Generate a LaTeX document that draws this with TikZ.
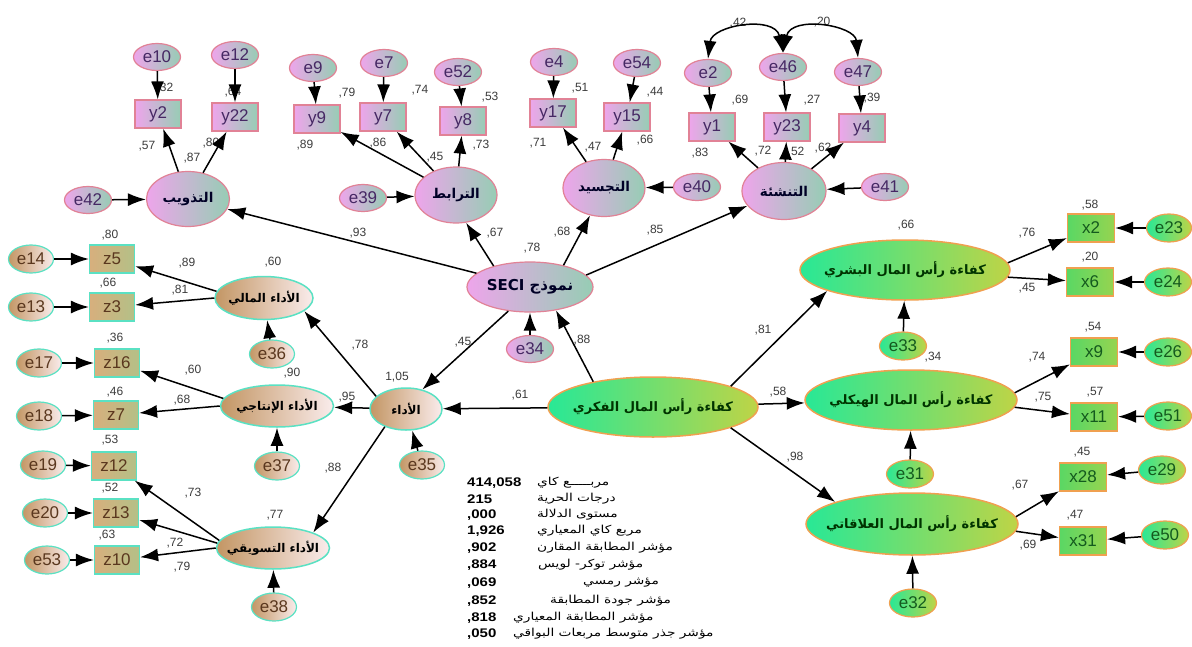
\documentclass[tikz,border=0pt]{standalone}
\usepackage{fontspec}
\setmainfont{Liberation Sans}
\newfontfamily\arf[Script=Arabic]{DejaVu Sans}
\newfontfamily\arft[Script=Arabic,FakeStretch=1.25]{DejaVu Sans}
\newfontfamily\numf[FakeStretch=1.2]{Liberation Sans}
\TeXXeTstate=1
\usetikzlibrary{shapes.geometric,arrows.meta}
\newcommand\AR[1]{\beginR #1\endR}
\newcommand\lb[3]{\node[lbl] (#1) at (#2) {#3};}
\definecolor{pkL}{RGB}{238,165,235}
\definecolor{tlR}{RGB}{150,205,180}
\definecolor{pkB}{RGB}{225,130,150}
\definecolor{txP}{RGB}{70,40,100}
\definecolor{brL}{RGB}{195,150,100}
\definecolor{crR}{RGB}{250,236,236}
\definecolor{cyB}{RGB}{90,225,195}
\definecolor{bxL}{RGB}{215,175,125}
\definecolor{bxR}{RGB}{180,192,135}
\definecolor{txB}{RGB}{90,55,30}
\definecolor{gnL}{RGB}{40,232,150}
\definecolor{ylR}{RGB}{190,212,70}
\definecolor{orB}{RGB}{240,160,80}
\definecolor{gbL}{RGB}{90,215,100}
\definecolor{gbR}{RGB}{150,212,80}
\definecolor{txG}{RGB}{20,90,30}
\definecolor{lblc}{RGB}{60,60,60}
\tikzset{
  arr/.style={line width=1.5pt,-{Latex[length=18pt,width=13pt]}},
  cov/.style={line width=1.5pt,{Latex[length=18pt,width=13pt]}-{Latex[length=18pt,width=13pt]}},
  lbl/.style={font=\fontsize{12}{12}\selectfont,text=lblc,inner sep=0pt},
  ebase/.style={ellipse,line width=1.2pt,minimum width=47pt,minimum height=27pt,inner sep=0pt,font=\fontsize{17}{17}\selectfont},
  bbase/.style={rectangle,line width=1.2pt,minimum width=46pt,minimum height=28pt,inner sep=0pt,font=\fontsize{17}{17}\selectfont},
  errP/.style={ebase,draw=pkB,left color=pkL,right color=tlR,text=txP},
  boxP/.style={bbase,draw=pkB,left color=pkL,right color=tlR,text=txP},
  latP/.style={ellipse,line width=1.2pt,draw=pkB,left color=pkL,right color=tlR,inner sep=0pt,font=\arf\bfseries\fontsize{13.5}{13.5}\selectfont,text=black!85!blue},
  errB/.style={ebase,minimum width=45pt,minimum height=28pt,draw=cyB,left color=brL,right color=crR,text=txB},
  boxB/.style={bbase,minimum width=45pt,draw=cyB,left color=bxL,right color=bxR,text=txB},
  latB/.style={ellipse,line width=1.5pt,draw=cyB,left color=brL,right color=crR,inner sep=0pt,inner xsep=-9pt,font=\arf\bfseries\fontsize{12}{12}\selectfont,text=black},
  errG/.style={ebase,minimum height=28pt,draw=orB,left color=gnL,right color=ylR,text=txG},
  boxG/.style={bbase,minimum width=47pt,draw=orB,left color=gbL,right color=gbR,text=txG},
  latG/.style={ellipse,line width=1.5pt,draw=orB,left color=gnL,right color=ylR,inner sep=0pt,inner xsep=-14pt,minimum width=210pt,minimum height=60pt,font=\arf\bfseries\fontsize{13}{13}\selectfont,text=black!80!green},
  num/.style={font=\numf\bfseries\fontsize{12.5}{12.5}\selectfont,inner sep=0pt,anchor=west},
  tar/.style={font=\arft\fontsize{11}{11}\selectfont,inner sep=0pt,anchor=west}
}
\begin{document}
\begin{tikzpicture}[x=1pt,y=-1pt]
\useasboundingbox[fill=white] (0,0) rectangle (1192,646);
% ---------- SECI first-order latents
\node[latP,minimum width=83pt,minimum height=55pt] (T1) at (188,199) {\AR{التذويب}};
\node[latP,minimum width=82pt,minimum height=56pt] (T2) at (456,195) {\AR{الترابط}};
\node[latP,minimum width=82pt,minimum height=57pt] (T3) at (604,188) {\AR{التجسيد}};
\node[latP,minimum width=84pt,minimum height=57pt] (T4) at (784,191) {\AR{التنشئة}};
\node[latP,minimum width=126pt,minimum height=50pt,font=\arf\bfseries\fontsize{15}{15}\selectfont] (SECI) at (530,287) {\AR{نموذج \beginL SECI\endL}};
% indicators
\node[boxP] (y2) at (158,114) {y2};
\node[boxP] (y22) at (235,117) {y22};
\node[boxP] (y9) at (317,119) {y9};
\node[boxP] (y7) at (383,117) {y7};
\node[boxP] (y8) at (463,121) {y8};
\node[boxP] (y17) at (553,113) {y17};
\node[boxP] (y15) at (627,117) {y15};
\node[boxP] (y1) at (712,127) {y1};
\node[boxP] (y23) at (787,127) {y23};
\node[boxP] (y4) at (862,128) {y4};
\node[errP] (e10) at (157,57) {e10};
\node[errP] (e12) at (235,55) {e12};
\node[errP] (e9) at (313,68) {e9};
\node[errP] (e7) at (384,63) {e7};
\node[errP] (e52) at (458,72) {e52};
\node[errP] (e4) at (554,62) {e4};
\node[errP] (e54) at (637,63) {e54};
\node[errP] (e2) at (708,73) {e2};
\node[errP] (e46) at (783,67) {e46};
\node[errP] (e47) at (858,72) {e47};
\node[errP] (e42) at (88,200) {e42};
\node[errP] (e39) at (363,198) {e39};
\node[errP] (e40) at (697,187) {e40};
\node[errP] (e41) at (885,187) {e41};
\node[errP] (e34) at (530,349) {e34};
% ---------- performance
\node[latB,minimum width=72pt,minimum height=42pt] (L0) at (406,409) {\AR{الأداء}};
\node[latB,minimum width=98pt,minimum height=43pt] (L1) at (264,298) {\AR{الأداء المالي}};
\node[latB,minimum width=113pt,minimum height=42pt] (L2) at (277,406) {\AR{الأداء الإنتاجي}};
\node[latB,minimum width=113pt,minimum height=42pt] (L3) at (273,548) {\AR{الأداء التسويقي}};
\node[boxB] (z5) at (112,259) {z5};
\node[boxB] (z3) at (112,307) {z3};
\node[boxB] (z16) at (117,363) {z16};
\node[boxB] (z7) at (116,415) {z7};
\node[boxB] (z12) at (114,466) {z12};
\node[boxB] (z13) at (116,513) {z13};
\node[boxB] (z10) at (117,560) {z10};
\node[errB] (e14) at (31,259) {e14};
\node[errB] (e13) at (31,307) {e13};
\node[errB] (e17) at (39,363) {e17};
\node[errB] (e18) at (39,416) {e18};
\node[errB] (e19) at (43,465) {e19};
\node[errB] (e20) at (45,513) {e20};
\node[errB] (e53) at (47,560) {e53};
\node[errB] (e36) at (272,354) {e36};
\node[errB] (e37) at (277,466) {e37};
\node[errB] (e38) at (274,607) {e38};
\node[errB] (e35) at (422,465) {e35};
% ---------- intellectual capital
\node[latG] (F) at (653,407) {\AR{كفاءة رأس المال الفكري}};
\node[latG] (R1) at (905,270) {\AR{كفاءة رأس المال البشري}};
\node[latG,minimum width=212pt] (R2) at (911,400) {\AR{كفاءة رأس المال الهيكلي}};
\node[latG,minimum width=212pt,minimum height=62pt] (R3) at (912,524) {\AR{كفاءة رأس المال العلاقاتي}};
\node[boxG] (x2) at (1091,228) {x2};
\node[boxG] (x6) at (1090,282) {x6};
\node[boxG] (x9) at (1094,352) {x9};
\node[boxG] (x11) at (1094,417) {x11};
\node[boxG] (x28) at (1083,477) {x28};
\node[boxG] (x31) at (1083,541) {x31};
\node[errG,minimum width=45pt] (e23) at (1169,228) {e23};
\node[errG] (e24) at (1168,282) {e24};
\node[errG] (e26) at (1168,352) {e26};
\node[errG] (e51) at (1168,416) {e51};
\node[errG] (e29) at (1162,470) {e29};
\node[errG] (e50) at (1165,535) {e50};
\node[errG] (e33) at (903,346) {e33};
\node[errG] (e31) at (910,474) {e31};
\node[errG] (e32) at (913,603) {e32};
% ---------- labels
\lb{a1}{165,88}{,32}
\lb{a2}{233,92}{,64}
\lb{a3}{147,146}{,57}
\lb{a4}{192,158}{,87}
\lb{a5}{211,143}{,80}
\lb{a6}{347,93}{,79}
\lb{a7}{305,145}{,89}
\lb{a8}{420,90}{,74}
\lb{a9}{378,143}{,86}
\lb{a10}{435,157}{,45}
\lb{a11}{490,97}{,53}
\lb{a12}{481,145}{,73}
\lb{a13}{580,88}{,51}
\lb{a14}{538,143}{,71}
\lb{a15}{593,147}{,47}
\lb{a16}{655,92}{,44}
\lb{a17}{645,140}{,66}
\lb{a18}{740,100}{,69}
\lb{a19}{700,153}{,83}
\lb{a20}{812,100}{,27}
\lb{a21}{763,151}{,72}
\lb{a22}{796,152}{,52}
\lb{a23}{872,98}{,39}
\lb{a24}{823,148}{,62}
\lb{a25}{738,23}{,42}
\lb{a26}{822,22}{,20}
\lb{b1}{358,233}{,93}
\lb{b2}{495,233}{,67}
\lb{b3}{532,248}{,78}
\lb{b4}{562,232}{,68}
\lb{b5}{655,230}{,85}
\lb{b6}{906,225}{,66}
\lb{b7}{463,342}{,45}
\lb{b8}{582,340}{,88}
\lb{b9}{763,330}{,81}
\lb{b10}{520,395}{,61}
\lb{b11}{778,392}{,58}
\lb{b12}{795,457}{,98}
\lb{c1}{110,235}{,80}
\lb{c2}{187,263}{,89}
\lb{c3}{108,283}{,66}
\lb{c4}{180,290}{,81}
\lb{c5}{273,262}{,60}
\lb{c6}{360,345}{,78}
\lb{c7}{115,338}{,36}
\lb{c8}{193,370}{,60}
\lb{c9}{292,373}{,90}
\lb{c10}{347,397}{,95}
\lb{c11}{397,377}{1,05}
\lb{c12}{115,392}{,46}
\lb{c13}{182,400}{,68}
\lb{c14}{110,440}{,53}
\lb{c15}{110,488}{,52}
\lb{c16}{107,535}{,63}
\lb{c17}{193,493}{,73}
\lb{c18}{175,543}{,72}
\lb{c19}{182,567}{,79}
\lb{c20}{275,515}{,77}
\lb{c21}{333,468}{,88}
\lb{d1}{1027,233}{,76}
\lb{d2}{1090,205}{,58}
\lb{d3}{1090,257}{,20}
\lb{d4}{1027,288}{,45}
\lb{d5}{1093,327}{,54}
\lb{d6}{933,357}{,34}
\lb{d7}{1037,357}{,74}
\lb{d8}{1043,397}{,75}
\lb{d9}{1095,392}{,57}
\lb{d10}{1082,452}{,45}
\lb{d11}{1020,485}{,67}
\lb{d12}{1075,515}{,47}
\lb{d13}{1028,545}{,69}
% ---------- arrows: errors to indicators
\foreach \e/\y in {e10/y2,e12/y22,e9/y9,e7/y7,e52/y8,e4/y17,e54/y15,e2/y1,e46/y23,e47/y4,
  e42/T1,e39/T2,e40/T3,e41/T4,e34/SECI,
  e14/z5,e13/z3,e17/z16,e18/z7,e19/z12,e20/z13,e53/z10,e36/L1,e37/L2,e38/L3,e35/L0,
  e23/x2,e24/x6,e26/x9,e51/x11,e29/x28,e50/x31,e33/R1,e31/R2,e32/R3}
  \draw[arr] (\e) -- (\y);
% loadings
\foreach \l/\y in {T1/y2,T1/y22,T2/y9,T2/y7,T2/y8,T3/y17,T3/y15,T4/y1,T4/y23,T4/y4}
  \draw[arr] (\l) -- (\y);
\draw[arr] (L1.172) -- (z5);
\draw[arr] (L1.west) -- (z3);
\draw[arr] (L2.172) -- (z16);
\draw[arr] (L2.west) -- (z7);
\draw[arr] (L3.172) -- (z12);
\draw[arr] (L3.175) -- (z13);
\draw[arr] (L3.180) -- (z10);
\draw[arr] (R1.4) -- (x2);
\draw[arr] (R1.-4) -- (x6);
\draw[arr] (R2.4) -- (x9);
\draw[arr] (R2.-4) -- (x11);
\draw[arr] (R3.4) -- (x28);
\draw[arr] (R3.-4) -- (x31);
% structural
\draw[arr] (SECI) -- (T1);
\draw[arr] (SECI.150) -- (T2.290);
\draw[arr] (SECI.33) -- (T3.243);
\draw[arr] (SECI.12) -- (T4.202);
\draw[arr] (SECI.228) -- (L0.50);
\draw[arr] (F.157) -- (SECI.-42);
\draw[arr] (F) -- (L0);
\draw[arr] (F.15) -- (R1.195);
\draw[arr] (F) -- (R2);
\draw[arr] (F.-15) -- (R3.164);
\draw[arr] (L0.157) -- (L1.-18);
\draw[arr] (L0) -- (L2);
\draw[arr] (L0.220) -- (L3.21);
% covariances
\draw[cov] (e2.north) .. controls (712,25) and (775,15) .. (e46.north);
\draw[cov] (e46.north) .. controls (791,15) and (855,25) .. (e47.north);
% ---------- fit table
\node[num] (n1) at (467,483) {414,058};
\node[num] (n2) at (467,499) {215};
\node[num] (n3) at (467,515) {,000};
\node[num] (n4) at (467,531) {1,926};
\node[num] (n5) at (467,548) {,902};
\node[num] (n6) at (467,565) {,884};
\node[num] (n7) at (467,583) {,069};
\node[num] (n8) at (467,601) {,852};
\node[num] (n9) at (467,618) {,818};
\node[num] (n10) at (467,634) {,050};
\node[tar] (t1) at (537,483) {\AR{مربـــــع كاي}};
\node[tar] (t2) at (537,499) {\AR{درجات الحرية}};
\node[tar] (t3) at (537,515) {\AR{مستوى الدلالة}};
\node[tar] (t4) at (537,531) {\AR{مربع كاي المعياري}};
\node[tar] (t5) at (537,548) {\AR{مؤشر المطابقة المقارن}};
\node[tar] (t6) at (538,565) {\AR{مؤشر توكر- لويس}};
\node[tar] (t7) at (583,583) {\AR{مؤشر رمسي}};
\node[tar] (t8) at (550,601) {\AR{مؤشر جودة المطابقة}};
\node[tar] (t9) at (513,618) {\AR{مؤشر المطابقة المعياري}};
\node[tar] (t10) at (513,634) {\AR{مؤشر جذر متوسط مربعات البواقي}};
\end{tikzpicture}
\end{document}
